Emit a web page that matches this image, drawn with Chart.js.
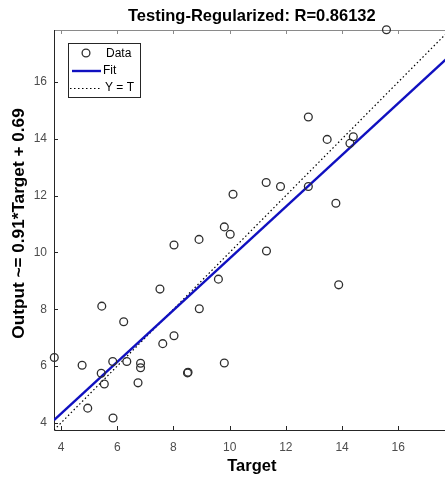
<!DOCTYPE html>
<html><head><meta charset="utf-8">
<script src="https://cdn.jsdelivr.net/npm/chart.js@4.4.1/dist/chart.umd.min.js"></script>
<style>
html,body{margin:0;padding:0;overflow:hidden;background:#fff;width:445px;height:477px;}
#wrap{position:absolute;left:0;top:0;width:455px;height:477px;}
</style></head><body>
<div id="wrap"><canvas id="c" width="455" height="477"></canvas></div>
<script>
// ---- data ----
const targetValues = [3.76, 4.75, 4.95, 5.43, 5.45, 5.54, 5.84, 5.85, 6.23, 6.34, 6.74, 6.83, 6.83, 7.52, 7.62, 8.02, 8.02, 8.50, 8.52, 8.91, 8.92, 9.60, 9.81, 9.81, 10.02, 10.12, 11.30, 11.31, 11.81, 12.80, 12.80, 13.47, 13.78, 13.88, 14.28, 14.40, 15.58];
const outputValues = [6.30, 6.03, 4.52, 5.75, 8.11, 5.37, 6.16, 4.17, 7.56, 6.16, 5.41, 6.10, 5.94, 8.71, 6.79, 7.07, 10.26, 5.76, 5.78, 10.46, 8.02, 9.06, 10.90, 6.11, 10.64, 12.05, 12.46, 10.05, 12.32, 12.32, 14.77, 13.98, 11.73, 8.86, 13.84, 14.07, 17.84];
const fitTarget = [3.75, 17.83];
const fitOutput = [4.10, 16.92];
const identityTarget = [3.75, 17.83];
const identityOutput = [3.75, 17.83];
const xTickValues = [4, 6, 8, 10, 12, 14, 16];
const yTickValues = [4, 6, 8, 10, 12, 14, 16];
const axisMin = 3.75, axisMax = 17.83;
const titleText = 'Testing-Regularized: R=0.86132';
const xTitle = 'Target';
const yTitle = 'Output ~= 0.91*Target + 0.69';
const seriesLabels = ['Data', 'Fit', 'Y = T'];

const FONT = "'Liberation Sans', Arial, Helvetica, sans-serif";
const zip = (xs, ys) => xs.map((x, i) => ({x, y: ys[i]}));

const framePlugin = {
  id: 'frame',
  beforeDatasetsDraw(chart) {
    const {ctx, chartArea: a, scales: {x, y}} = chart;
    ctx.save();
    ctx.lineWidth = 1;
    ctx.strokeStyle = '#8a8a8a';
    ctx.beginPath(); ctx.moveTo(a.left, a.top + 0.5); ctx.lineTo(a.right, a.top + 0.5); ctx.stroke();
    ctx.beginPath(); ctx.moveTo(a.right - 0.5, a.top); ctx.lineTo(a.right - 0.5, a.bottom); ctx.stroke();
    ctx.strokeStyle = '#262626';
    ctx.beginPath();
    ctx.moveTo(a.left + 0.5, a.top); ctx.lineTo(a.left + 0.5, a.bottom + 0.5); ctx.lineTo(a.right, a.bottom + 0.5);
    ctx.stroke();
    const tl = 4;
    xTickValues.forEach(v => {
      const px = Math.round(x.getPixelForValue(v)) + 0.5;
      ctx.strokeStyle = '#262626';
      ctx.beginPath(); ctx.moveTo(px, a.bottom); ctx.lineTo(px, a.bottom - tl); ctx.stroke();
      ctx.strokeStyle = '#8a8a8a';
      ctx.beginPath(); ctx.moveTo(px, a.top); ctx.lineTo(px, a.top + tl); ctx.stroke();
    });
    yTickValues.forEach(v => {
      const py = Math.round(y.getPixelForValue(v)) + 0.5;
      ctx.strokeStyle = '#262626';
      ctx.beginPath(); ctx.moveTo(a.left, py); ctx.lineTo(a.left + tl, py); ctx.stroke();
    });
    ctx.restore();
  },
  afterDraw(chart) {
    const {ctx} = chart;
    ctx.save();
    ctx.translate(19, 223.5);
    ctx.rotate(-Math.PI / 2);
    ctx.font = 'bold 17.2px ' + FONT;
    ctx.fillStyle = '#000';
    ctx.textAlign = 'center';
    ctx.textBaseline = 'middle';
    ctx.fillText(yTitle, 0, 0);
    ctx.restore();
  }
};

const legendPlugin = {
  id: 'boxLegend',
  afterDatasetsDraw(chart) {
    const {ctx} = chart;
    const ds = chart.data.datasets;
    ctx.save();
    ctx.fillStyle = '#fff';
    ctx.fillRect(68.5, 43.5, 72, 54);
    ctx.strokeStyle = '#262626';
    ctx.lineWidth = 1;
    ctx.strokeRect(68.5, 43.5, 72, 54);
    ctx.font = '12px ' + FONT;
    ctx.fillStyle = '#000';
    ctx.textBaseline = 'middle';
    ctx.textAlign = 'left';
    ctx.strokeStyle = ds[0].borderColor; ctx.lineWidth = ds[0].borderWidth;
    ctx.beginPath(); ctx.arc(86, 53, 3.9, 0, Math.PI * 2); ctx.stroke();
    ctx.fillText(ds[0].label, 106, 54);
    ctx.strokeStyle = ds[1].borderColor; ctx.lineWidth = ds[1].borderWidth;
    ctx.beginPath(); ctx.moveTo(72, 71); ctx.lineTo(101, 71); ctx.stroke();
    ctx.fillText(ds[1].label, 103, 71);
    ctx.strokeStyle = ds[2].borderColor; ctx.lineWidth = ds[2].borderWidth;
    ctx.setLineDash(ds[2].borderDash);
    ctx.beginPath(); ctx.moveTo(70, 88.5); ctx.lineTo(100, 88.5); ctx.stroke();
    ctx.setLineDash([]);
    ctx.fillText(ds[2].label, 105, 88);
    ctx.restore();
  }
};

new Chart(document.getElementById('c'), {
  type: 'scatter',
  data: {
    datasets: [
      {
        label: seriesLabels[0],
        data: zip(targetValues, outputValues),
        pointStyle: 'circle',
        pointRadius: 3.9,
        borderColor: '#2e2e2e',
        backgroundColor: 'rgba(0,0,0,0)',
        borderWidth: 1.3,
        showLine: false,
        clip: false
      },
      {
        label: seriesLabels[1],
        data: zip(fitTarget, fitOutput),
        showLine: true,
        pointRadius: 0,
        borderColor: '#1010c0',
        borderWidth: 2.4,
        backgroundColor: 'rgba(0,0,0,0)'
      },
      {
        label: seriesLabels[2],
        data: zip(identityTarget, identityOutput),
        showLine: true,
        pointRadius: 0,
        borderColor: '#000000',
        borderWidth: 1.2,
        borderDash: [1.5, 2.5],
        backgroundColor: 'rgba(0,0,0,0)'
      }
    ]
  },
  options: {
    responsive: false,
    animation: false,
    devicePixelRatio: 1,
    layout: {padding: {top: 0, right: 0, bottom: 0, left: 0}},
    plugins: {
      legend: {display: false},
      tooltip: {enabled: false},
      title: {
        display: true,
        text: titleText,
        fullSize: false,
        color: '#000',
        font: {family: FONT, size: 16.5, weight: 'bold'},
        padding: {top: 6.1, bottom: 4.1}
      }
    },
    scales: {
      x: {
        type: 'linear',
        min: axisMin, max: axisMax,
        afterBuildTicks: s => { s.ticks = xTickValues.map(v => ({value: v})); },
        afterFit: s => { s.height = 47; },
        grid: {display: false, drawTicks: false},
        border: {display: false},
        ticks: {color: '#4d4d4d', font: {family: FONT, size: 12}, padding: 10.5, maxRotation: 0, autoSkip: false},
        title: {display: true, text: xTitle, color: '#000', font: {family: FONT, size: 16.5, weight: 'bold'}, padding: {top: 0, bottom: 1}}
      },
      y: {
        type: 'linear',
        min: axisMin, max: axisMax,
        afterBuildTicks: s => { s.ticks = yTickValues.map(v => ({value: v})); },
        afterFit: s => { s.width = 54; },
        grid: {display: false, drawTicks: false},
        border: {display: false},
        ticks: {color: '#4d4d4d', font: {family: FONT, size: 12}, padding: 7, autoSkip: false},
        title: {display: false}
      }
    }
  },
  plugins: [framePlugin, legendPlugin]
});
</script>
</body></html>
